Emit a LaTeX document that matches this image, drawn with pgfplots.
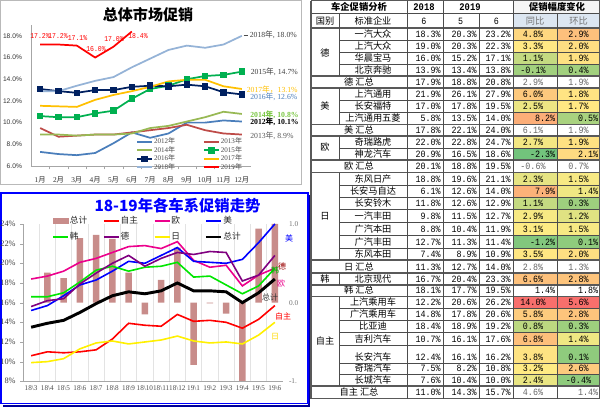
\documentclass[border=0pt]{standalone}
\usepackage{pgfplots}
\pgfplotsset{compat=1.18}
\usepackage{fontspec}
\setmainfont{Liberation Serif}
\newfontfamily\cjk{Noto Sans CJK SC}
\newfontfamily\mono[FakeStretch=0.87]{Liberation Mono}
\newfontfamily\arial{Liberation Sans}
\newcommand\fs[1]{\fontsize{#1}{#1}\selectfont}
\newcommand\nian{{\cjk 年}}
\newcommand\yue{{\cjk 月}}
\newcommand\bs{\textbackslash}

\definecolor{c2012}{HTML}{4A7EBB}
\definecolor{c2013}{HTML}{BE4B48}
\definecolor{c2014}{HTML}{98B954}
\definecolor{c2015}{HTML}{00B050}
\definecolor{c2016}{HTML}{002060}
\definecolor{c2017}{HTML}{FFC000}
\definecolor{c2018}{HTML}{95B3D7}
\definecolor{c2019}{HTML}{FF0000}
\definecolor{barc}{RGB}{200,140,138}
\definecolor{cG}{RGB}{99,190,123}
\definecolor{cY}{RGB}{255,235,132}
\definecolor{cR}{RGB}{248,105,107}
\definecolor{hdrblue}{HTML}{DCE6F1}
\definecolor{gbright}{RGB}{0,230,0}
\definecolor{dpurple}{RGB}{128,0,128}
\definecolor{ylw}{RGB}{255,240,0}

% table macros (x,y in px; y downward)
\newcommand\crow[5]{%
 \node[cj] at (373,#1-5.8) {#2};
 \node[num,anchor=mid east] at (441,#1-5.8) {#3\%};
 \node[num,anchor=mid east] at (477,#1-5.8) {#4\%};
 \node[num,anchor=mid east] at (511,#1-5.8) {#5\%};}
\newcommand\srow[7]{%
 \node[cj] at (359,#1-5.8) {#2};
 \node[num,anchor=mid east] at (441,#1-5.8) {#3\%};
 \node[num,anchor=mid east] at (477,#1-5.8) {#4\%};
 \node[num,anchor=mid east] at (511,#1-5.8) {#5\%};
 \node[num,text=black!60] at (533,#1-5.8) {#6\%};
 \node[num,text=black!60] at (578.5,#1-5.8) {#7\%};}
\newcommand\tbc[4]{\fill[#3] (513,#1) rectangle (557,#2); \node[num] at (533,#2-5.8) {#4\%};}
\newcommand\tbr[4]{\fill[#3] (513,#1) rectangle (557,#2); \node[num,anchor=mid east] at (555.5,#2-5.8) {#4\%};}
\newcommand\hbc[4]{\fill[#3] (557,#1) rectangle (600,#2); \node[num] at (578.5,#2-5.8) {#4\%};}
\newcommand\hbr[4]{\fill[#3] (557,#1) rectangle (600,#2); \node[num,anchor=mid east] at (598.5,#2-5.8) {#4\%};}
\newcommand\HL[1]{\draw[TL] (311,#1) -- (600,#1);}
\newcommand\hl[1]{\draw[tl] (339,#1) -- (600,#1);}

\begin{document}
\begin{tikzpicture}[x=0.75pt,y=-0.75pt,
  cj/.style={font=\cjk\fs{6.9}, inner sep=0pt, anchor=mid},
  num/.style={font=\mono\fs{7.2}, inner sep=0pt, anchor=mid},
  TL/.style={black!65, line width=1pt},
  tl/.style={black!70, line width=0.4pt}]
\useasboundingbox (0,0) rectangle (600,407);
\fill[white] (0,0) rectangle (600,407);

%================ TOP CHART =================
\draw[gray!55, line width=0.6pt] (0.5,0.5) rectangle (301.5,184.5);
\node[font=\cjk\bfseries\fs{11.3}] at (148,14.5) {总体市场促销};

\begin{scope}[x=1pt,y=1pt]
\begin{axis}[
  at={(23.25pt,-124.5pt)}, anchor=south west, scale only axis,
  width=165pt, height=105.75pt,
  xmin=0.5, xmax=12.5, ymin=6, ymax=19,
  clip=false,
  axis x line*=bottom, axis y line*=left,
  axis line style={draw=gray!70, line width=0.5pt},
  xtick={1,...,12},
  xticklabels={1\yue,2\yue,3\yue,4\yue,5\yue,6\yue,7\yue,8\yue,9\yue,10\yue,11\yue,12\yue},
  minor x tick num=1,
  major x tick style={draw=none},
  minor x tick style={draw=gray!70},
  tick align=outside, minor tick length=2.5pt,
  ytick={6,8,...,18},
  yticklabels={6.0\%,8.0\%,10.0\%,12.0\%,14.0\%,16.0\%,18.0\%},
  ytick style={draw=none},
  yticklabel style={font=\arial\fs{5}, text=black!80, xshift=1pt},
  xticklabel style={font=\fs{5.5}, text=black!80},
  legend columns=2,
  legend cell align=left,
  legend style={at={(0.477,0.209)}, anchor=north west, draw=none, fill=none,
    font=\fs{5.3}, text=black!70, row sep=-1.2pt, inner sep=0pt,
    nodes={inner sep=0.8pt},
    /tikz/every even column/.append style={column sep=2pt}},
  legend image code/.code={\draw[mark repeat=2,mark phase=2,#1] plot coordinates {(0pt,0pt) (5.6pt,0pt) (11.25pt,0pt)};},
]
\addplot[c2012, line width=1.3pt] coordinates {(1,7.3)(2,7.1)(3,7.0)(4,7.2)(5,8.1)(6,9.1)(7,8.6)(8,9.0)(9,10.0)(10,10.0)(11,10.2)(12,10.1)};
\addlegendentry{\makebox[34pt][l]{2012\nian}}
\addplot[c2013, line width=1.3pt] coordinates {(1,9.5)(2,8.7)(3,8.8)(4,8.9)(5,8.9)(6,9.1)(7,9.3)(8,9.5)(9,9.8)(10,9.3)(11,9.0)(12,8.9)};
\addlegendentry{2013\nian}
\addplot[c2014, line width=1.3pt] coordinates {(1,8.9)(2,8.9)(3,8.8)(4,8.9)(5,8.9)(6,9.0)(7,9.5)(8,9.7)(9,10.1)(10,10.5)(11,11.0)(12,10.8)};
\addlegendentry{\makebox[34pt][l]{2014\nian}}
\addplot[c2015, line width=1.3pt, mark=square*, mark size=1.8pt, mark options={fill=c2015}] coordinates {(1,10.6)(2,10.5)(3,10.5)(4,10.85)(5,11.1)(6,12.2)(7,13.1)(8,13.4)(9,14.0)(10,14.3)(11,14.4)(12,14.7)};
\addlegendentry{2015\nian}
\addplot[c2016, line width=1.3pt, mark=square*, mark size=1.8pt, mark options={fill=c2016}] coordinates {(1,13.1)(2,12.9)(3,12.75)(4,13.0)(5,13.0)(6,13.3)(7,13.4)(8,13.35)(9,13.5)(10,13.35)(11,12.8)(12,12.6)};
\addlegendentry{\makebox[34pt][l]{2016\nian}}
\addplot[c2017, line width=1.3pt] coordinates {(1,11.55)(2,11.5)(3,11.45)(4,12.1)(5,12.55)(6,12.9)(7,13.3)(8,13.8)(9,13.95)(10,13.95)(11,13.35)(12,13.1)};
\addlegendentry{2017\nian}
\addplot[c2018, line width=1.3pt] coordinates {(1,12.9)(2,12.9)(3,13.4)(4,13.85)(5,14.2)(6,15.1)(7,15.9)(8,16.7)(9,17.1)(10,16.9)(11,17.2)(12,18.0)};
\addlegendentry{\makebox[34pt][l]{2018\nian}}
\addplot[c2019, line width=1.3pt] coordinates {(1,17.2)(2,17.2)(3,17.1)(4,16.0)(5,17.0)(6,18.4)};
\addlegendentry{2019\nian}
\end{axis}
\end{scope}

% 2019 data labels
\begin{scope}[every node/.style={font=\mono\fs{5.6}, text=c2019, inner sep=0pt}]
\node at (40,36) {17.2\%};
\node at (58,36) {17.2\%};
\node at (77.5,38.3) {17.1\%};
\node at (96,49.3) {16.0\%};
\node at (114,39) {17.0\%};
\node at (138,36.5) {18.4\%};
\end{scope}
% end labels
\begin{scope}[every node/.style={font=\fs{5.8}, inner sep=0pt, anchor=west}]
\draw[black!70, line width=0.6pt] (243.5,35) -- (247.5,35);
\node[text=black!75] at (249.5,35) {2018\nian, 18.0\%};
\node[text=black!75] at (250.5,72.3) {2015\nian, 14.7\%};
\node[text=c2017] at (246.5,90) {2017{\cjk 年，}13.1\%};
\node[text=c2012] at (250,96.5) {2016\nian, 12.6\%};
\node[text=c2014!80!green] at (250,115) {\bfseries 2014\nian, 10.8\%};
\node[text=black] at (250,121.7) {\bfseries 2012{\cjk\bfseries 年}, 10.1\%};
\node[text=black!65] at (250,135.7) {2013\nian, 8.9\%};
\end{scope}

%================ BOTTOM CHART =================
\draw[blue!60!black, line width=1.4pt] (309.2,195) -- (309.2,405.6) -- (3,405.6);
\draw[blue, line width=0.9pt] (1,193) rectangle (308,403.5);
\node[font=\cjk\bfseries\fs{11.5}, text=blue] at (177.5,205.5) {18-19年各车系促销走势};

\begin{scope}[x=1pt,y=1pt]
\begin{axis}[
  at={(17.25pt,-285.975pt)}, anchor=south west, scale only axis,
  width=195pt, height=118pt,
  xmin=0.5, xmax=16.5, ymin=-1, ymax=1,
  clip=false,
  hide x axis,
  axis y line*=right,
  y axis line style={draw=none},
  ytick={-1,0,1}, yticklabels={-1.,0.0,1.0},
  ytick style={draw=none},
  yticklabel style={font=\fs{5.5}, text=black!55, anchor=west, xshift=1pt},
  ybar, bar width=4.9pt,
]
\addplot[fill=barc, draw=none] coordinates {(2,0.38)(3,0.31)(4,0.82)(5,0.86)(6,0.81)(7,0.38)(8,-0.15)(9,0.29)(10,0.70)(11,-0.79)(12,-0.01)(13,-0.14)(14,-1.0)(15,0.94)(16,1.0)};
\end{axis}

\begin{axis}[
  at={(17.25pt,-285.975pt)}, anchor=south west, scale only axis,
  width=195pt, height=118pt,
  xmin=0.5, xmax=16.5, ymin=8, ymax=24,
  clip=false,
  axis x line*=bottom, axis y line*=left,
  axis line style={draw=gray!70, line width=0.5pt},
  xtick={1,...,16},
  xticklabels={18\bs3,18\bs4,18\bs5,18\bs6,18\bs7,18\bs8,18\bs9,18\bs10,18\bs11,18\bs12,19\bs1,19\bs2,19\bs3,19\bs4,19\bs5,19\bs6},
  minor x tick num=1,
  xminorgrids=true,
  minor grid style={draw=gray!22, line width=0.5pt},
  major x tick style={draw=none},
  minor x tick style={draw=none},
  tick align=outside, major tick length=2pt,
  ytick={8,10,...,24},
  yticklabels={8\%,10\%,12\%,14\%,16\%,18\%,20\%,22\%,24\%},
  ytick style={draw=gray!70},
  yticklabel style={font=\fs{6.2}, text=black!75},
  xticklabel style={font=\fs{5.4}, text=black!70, inner sep=1pt},
  legend columns=4,
  legend cell align=left,
  legend style={at={(0.1115,1.057)}, anchor=north west, draw=none, fill=none,
    font=\cjk\fs{6.5}, text=black!85, row sep=3.4pt, inner sep=0pt,
    nodes={inner sep=0.8pt},
    /tikz/every even column/.append style={column sep=2pt}},
  legend image code/.code={\draw[#1] (0pt,0pt) -- (11.25pt,0pt);},
]
\addlegendimage{legend image code/.code={\fill[barc] (0pt,-1.9pt) rectangle (11.25pt,1.9pt);}}
\addlegendentry{\makebox[22pt][l]{总计}}
\addplot[red, line width=1.2pt] coordinates {(1,10.6)(2,11.0)(3,10.9)(4,11.0)(5,11.2)(6,12.3)(7,13.9)(8,13.7)(9,13.6)(10,14.8)(11,14.1)(12,14.2)(13,14.0)(14,13.4)(15,14.3)(16,15.7)};
\addlegendentry{\makebox[22pt][l]{自主}}
\addplot[magenta, line width=1.2pt] coordinates {(1,18.4)(2,18.7)(3,19.2)(4,20.1)(5,20.5)(6,21.1)(7,21.7)(8,21.8)(9,21.5)(10,22.2)(11,20.3)(12,19.6)(13,19.8)(14,17.7)(15,18.8)(16,19.5)};
\addlegendentry{\makebox[22pt][l]{欧}}
\addplot[blue, line width=1.2pt] coordinates {(1,15.2)(2,15.7)(3,16.7)(4,17.8)(5,18.3)(6,19.2)(7,20.2)(8,20.0)(9,20.8)(10,21.6)(11,20.2)(12,20.1)(13,20.0)(14,20.4)(15,22.1)(16,24.0)};
\addlegendentry{\makebox[22pt][l]{美}}
\addplot[gbright, line width=1.2pt] coordinates {(1,16.6)(2,16.6)(3,17.0)(4,18.1)(5,19.3)(6,19.7)(7,19.2)(8,19.6)(9,19.7)(10,20.1)(11,18.6)(12,18.7)(13,17.8)(14,16.9)(15,17.7)(16,19.5)};
\addlegendentry{韩}
\addplot[dpurple, line width=1.2pt] coordinates {(1,15.6)(2,16.2)(3,16.4)(4,17.9)(5,19.0)(6,20.0)(7,20.8)(8,19.7)(9,20.5)(10,21.1)(11,20.9)(12,21.2)(13,21.1)(14,18.2)(15,18.8)(16,20.8)};
\addlegendentry{德}
\addplot[ylw, line width=1.2pt] coordinates {(1,9.9)(2,10.0)(3,10.3)(4,11.3)(5,11.9)(6,12.1)(7,11.8)(8,12.0)(9,12.2)(10,12.6)(11,12.1)(12,11.9)(13,12.0)(14,11.8)(15,12.7)(16,14.0)};
\addlegendentry{日}
\addplot[black, line width=2.2pt] coordinates {(1,13.5)(2,13.9)(3,14.2)(4,15.0)(5,15.9)(6,16.7)(7,17.1)(8,16.9)(9,17.2)(10,18.0)(11,17.2)(12,17.2)(13,17.1)(14,16.0)(15,17.0)(16,18.4)};
\addlegendentry{总计}
\end{axis}
\end{scope}

% series labels at right
\begin{scope}[every node/.style={font=\cjk\fs{6}, inner sep=0pt}]
\node[text=blue] at (289,238) {美};
\node[text=red!60!black] at (282,266.7) {德};
\node[text=green!70!black] at (275,270) {韩};
\node[text=magenta] at (281,283) {欧};
\node[text=black!80] at (270,297) {总计};
\node[text=red] at (283,316) {自主};
\node[text=ylw!80!orange] at (275,337) {日};
\end{scope}

%================ TABLE =================
\fill[gray!8] (513,0.5) rectangle (600,13.5);
\fill[hdrblue] (513,13.5) rectangle (600,28);
\node[font=\cjk\bfseries\fs{7}, inner sep=0pt] at (359,7.2) {车企促销分析};
\node[font=\mono\bfseries\fs{7.6}, inner sep=0pt] at (424,7.2) {2018};
\node[font=\mono\bfseries\fs{7.6}, inner sep=0pt] at (470,7.2) {2019};
\node[font=\cjk\bfseries\fs{7}, inner sep=0pt] at (557,7.2) {促销幅度变化};
\node[cj] at (325,21.5) {国别};
\node[cj] at (373,21.5) {标准企业};
\node[num] at (424,21.5) {6};
\node[num] at (460.7,21.5) {5};
\node[num] at (496.5,21.5) {6};
\node[cj,text=black!55] at (535,21.5) {同比};
\node[cj,text=black!55] at (578.5,21.5) {环比};

\node[cj] at (325,53) {德};
\node[cj] at (325,106) {美};
\node[cj] at (325,147.5) {欧};
\node[cj] at (325,216.5) {日};
\node[cj] at (325,279) {韩};
\node[cj] at (325,341.5) {自主};

% 德
\tbc{28}{40}{cR!15!cY}{4.8}   \hbc{28}{40}{cR!33!cY}{2.9}   \crow{40}{一汽大众}{18.3}{20.3}{23.2}
\tbc{40}{52}{cR!2!cY}{3.3}    \hbc{40}{52}{cR!10!cY}{2.0}   \crow{52}{上汽大众}{19.0}{20.3}{22.3}
\tbc{52}{64}{cG!38!cY}{1.1}   \hbc{52}{64}{cR!8!cY}{1.9}    \crow{64}{华晨宝马}{16.0}{15.2}{17.1}
\tbc{64}{76}{cG!60!cY}{-0.1}  \hbc{64}{76}{cG!60!cY}{0.4}   \crow{76}{北京奔驰}{13.9}{13.4}{13.8}
\srow{88}{德 汇总}{17.9}{18.8}{20.8}{2.9}{1.9}
% 美
\tbc{88}{100}{cR!26!cY}{6.0}  \hbc{88}{100}{cR!5!cY}{1.8}   \crow{100}{上汽通用}{21.9}{26.1}{27.9}
\tbc{100}{112}{cG!12!cY}{2.5} \hbc{100}{112}{cR!3!cY}{1.7}  \crow{112}{长安福特}{17.0}{17.8}{19.5}
\tbr{112}{124.5}{cR!47!cY}{8.2} \hbr{112}{124.5}{cG!55!cY}{0.5} \crow{124.5}{上汽通用五菱}{5.8}{13.5}{14.0}
\srow{136}{美 汇总}{17.8}{22.1}{24.0}{6.1}{1.9}
% 欧
\tbc{136}{148}{cG!8!cY}{2.7}  \hbc{136}{148}{cR!8!cY}{1.9}  \crow{148}{奇瑞路虎}{22.0}{22.8}{24.7}
\tbr{148}{160}{cG!90!cY}{-2.3} \hbr{148}{160}{cR!13!cY}{2.1} \crow{160}{神龙汽车}{20.9}{16.5}{18.6}
\srow{172.5}{欧 汇总}{20.1}{18.8}{19.5}{-0.6}{0.7}
% 日
\tbc{172.5}{185}{cG!16!cY}{2.3} \hbc{172.5}{185}{cG!5!cY}{1.5} \crow{185}{东风日产}{18.8}{19.6}{21.1}
\tbr{185}{197}{cR!44!cY}{7.9}  \hbr{185}{197}{cG!10!cY}{1.4} \crow{197}{长安马自达}{6.1}{12.6}{14.0}
\tbc{197}{209.5}{cG!38!cY}{1.1} \hbc{197}{209.5}{cG!62!cY}{0.3} \crow{209.5}{长安铃木}{11.8}{12.6}{12.9}
\tbc{209.5}{222.5}{cG!5!cY}{2.9} \hbc{209.5}{222.5}{cG!20!cY}{1.2} \crow{222.5}{一汽丰田}{9.8}{11.5}{12.7}
\tbc{222.5}{235.5}{cG!1!cY}{3.1} \hbc{222.5}{235.5}{cG!5!cY}{1.5} \crow{235.5}{广汽本田}{8.8}{10.4}{11.9}
\tbr{235.5}{248}{cG!80!cY}{-1.2} \hbr{235.5}{248}{cG!72!cY}{0.1} \crow{248}{广汽丰田}{12.7}{11.3}{11.4}
\tbc{248}{260}{cR!3!cY}{3.5}   \hbc{248}{260}{cR!10!cY}{2.0} \crow{260}{东风本田}{7.4}{8.9}{10.9}
\srow{273}{日 汇总}{11.3}{12.7}{14.0}{2.8}{1.3}
% 韩
\tbc{273}{285}{cR!32!cY}{6.6} \hbc{273}{285}{cR!30!cY}{2.8} \crow{285}{北京现代}{16.7}{20.4}{23.3}
\node[cj] at (359,296.5-5.8) {韩 汇总};
\node[num,anchor=mid east] at (441,296.5-5.8) {18.1\%};
\node[num,anchor=mid east] at (477,296.5-5.8) {17.7\%};
\node[num,anchor=mid east] at (511,296.5-5.8) {19.5\%};
\node[num,anchor=mid east] at (555.5,296.5-5.8) {1.4\%};
\node[num,anchor=mid east] at (598.5,296.5-5.8) {1.8\%};
% 自主
\tbc{296.5}{308.5}{cR!95!cY}{14.0} \hbc{296.5}{308.5}{cR!95!cY}{5.6} \crow{308.5}{上汽乘用车}{12.2}{20.6}{26.2}
\tbc{308.5}{320.5}{cR!24!cY}{5.8} \hbc{308.5}{320.5}{cR!30!cY}{2.8} \crow{320.5}{广汽乘用车}{14.8}{17.8}{20.6}
\tbc{320.5}{332.5}{cG!43!cY}{0.8} \hbc{320.5}{332.5}{cG!62!cY}{0.3} \crow{332.5}{比亚迪}{18.4}{18.9}{19.2}
\tbc{332.5}{345}{cR!34!cY}{6.8}   \hbc{332.5}{345}{cG!10!cY}{1.4}   \crow{345}{吉利汽车}{10.7}{16.1}{17.6}
\tbc{345}{363}{cR!6!cY}{3.8}     \hbc{345}{363}{cG!72!cY}{0.1}     \crow{363}{长安汽车}{12.4}{16.1}{16.2}
\tbc{363}{374.5}{cY}{3.2}        \hbc{363}{374.5}{cR!25!cY}{2.6}   \crow{374.5}{奇瑞汽车}{7.5}{8.2}{10.8}
\tbc{374.5}{386}{cG!14!cY}{2.4}  \hbc{374.5}{386}{cG!72!cY}{-0.4}  \crow{386}{长城汽车}{7.6}{10.4}{10.0}
\node[cj] at (359,398.5-5.8) {自主 汇总};
\node[num,anchor=mid east] at (441,398.5-5.8) {11.0\%};
\node[num,anchor=mid east] at (477,398.5-5.8) {14.3\%};
\node[num,anchor=mid east] at (511,398.5-5.8) {15.7\%};
\node[num,text=black!60] at (533,398.5-5.8) {4.6\%};
\node[num,anchor=mid east,text=black!60] at (598.5,398.5-5.8) {1.4\%};

\draw[tl] (311,13.5) -- (600,13.5);
\foreach \yy in {0.5,28,76,88,124.5,136,160,172.5,260,273,285,296.5,386,398.5} {\HL{\yy}}
\foreach \yy in {40,52,64,100,112,148,185,197,209.5,222.5,235.5,248,308.5,320.5,332.5,345,363,374.5} {\hl{\yy}}
\draw[TL] (311,0.5) -- (311,398.5);
\draw[TL] (599.5,0.5) -- (599.5,398.5);
\foreach \a/\b in {13.5/76,88/124.5,136/160,172.5/260,273/285,296.5/386} {\draw[tl] (339,\a) -- (339,\b);}
\draw[tl] (407,0.5) -- (407,398.5);
\draw[tl] (443,0.5) -- (443,398.5);
\draw[tl] (479,13.5) -- (479,398.5);
\draw[tl] (513,0.5) -- (513,398.5);
\draw[tl] (557,13.5) -- (557,398.5);
\end{tikzpicture}
\end{document}
